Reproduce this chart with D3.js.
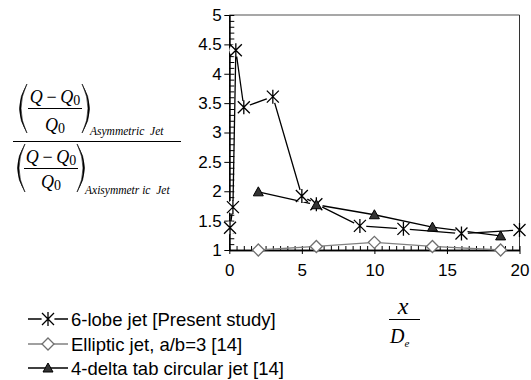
<!DOCTYPE html>
<html><head><meta charset="utf-8">
<script src="https://cdn.jsdelivr.net/npm/d3@7"></script>
<style>body{margin:0;background:#fff}svg{display:block}</style>
</head><body>
<svg id="c" width="531" height="380"></svg>
<script>
// ---- data ----
const lobeX = [0.05, 0.25, 0.45, 1, 3, 5, 6, 9, 12, 16, 20];
const lobeY = [1.38, 1.73, 4.40, 3.43, 3.61, 1.92, 1.78, 1.41, 1.36, 1.28, 1.34];
const ellX = [2, 6, 10, 14, 18.7];
const ellY = [1.00, 1.06, 1.13, 1.06, 1.00];
const deltaX = [2, 6, 10, 14, 18.7];
const deltaY = [1.99, 1.77, 1.60, 1.39, 1.24];
const seriesNames = ["6-lobe jet [Present study]", "Elliptic jet, a/b=3 [14]", "4-delta tab circular jet [14]"];
const xTicks = [0, 5, 10, 15, 20];
const yTicks = [1, 1.5, 2, 2.5, 3, 3.5, 4, 4.5, 5];

const svg = d3.select("#c");
const x = d3.scaleLinear().domain([0, 20]).range([229.3, 519.5]);
const y = d3.scaleLinear().domain([1, 5]).range([250, 15]);
const FONT = "Arial, 'Liberation Sans', sans-serif";
const SERIF = "'Times New Roman', 'Liberation Serif', serif";

// frame lines
svg.append("line").attr("x1", x(0)).attr("x2", x(20)).attr("y1", y(5)).attr("y2", y(5))
  .attr("stroke", "#8a8a8a").attr("stroke-width", 1.3);
svg.append("line").attr("x1", x(20)).attr("x2", x(20)).attr("y1", y(5)).attr("y2", y(1))
  .attr("stroke", "#333").attr("stroke-width", 1);

// axes
const minorY = d3.range(1, 5.0001, 0.1).map(v => +v.toFixed(2));
const minorX = d3.range(0, 20.0001, 0.5).map(v => +v.toFixed(2));
const gy = svg.append("g").attr("transform", `translate(${x(0)},0)`);
gy.call(d3.axisLeft(y).tickValues(yTicks).tickSize(5).tickSizeOuter(0).tickPadding(2.5).tickFormat(d3.format("")));
const gy2 = svg.append("g").attr("transform", `translate(${x(0)},0)`);
gy2.call(d3.axisRight(y).tickValues(minorY).tickSize(5).tickSizeOuter(0).tickFormat(""));
const gx = svg.append("g").attr("transform", `translate(0,${y(1)})`);
gx.call(d3.axisBottom(x).tickValues(xTicks).tickSize(4).tickSizeOuter(0).tickPadding(10));
const gx2 = svg.append("g").attr("transform", `translate(0,${y(1)})`);
gx2.call(d3.axisTop(x).tickValues(minorX).tickSize(4).tickSizeOuter(0).tickFormat(""));
[gy, gy2, gx, gx2].forEach(g => {
  g.select(".domain").attr("stroke", "#000").attr("stroke-width", 1.3);
  g.selectAll(".tick line").attr("stroke", "#000").attr("stroke-width", 1);
  g.selectAll("text").attr("font-family", FONT).attr("font-size", 17).attr("fill", "#000");
});

// lines
const line = d3.line().x(d => x(d[0])).y(d => y(d[1]));
const lobe = lobeX.map((v, i) => [v, lobeY[i]]);
const ell = ellX.map((v, i) => [v, ellY[i]]);
const delta = deltaX.map((v, i) => [v, deltaY[i]]);
svg.append("path").attr("d", line(ell)).attr("fill", "none").attr("stroke", "#808080").attr("stroke-width", 1.3);
svg.append("path").attr("d", line(delta)).attr("fill", "none").attr("stroke", "#000").attr("stroke-width", 1.3);
svg.append("path").attr("d", line(lobe)).attr("fill", "none").attr("stroke", "#000").attr("stroke-width", 1.3);

// markers
const starPath = "M-6,-6L6,6M-6,6L6,-6M0,-7L0,7";
const diamondPath = "M0,-6L6,0L0,6L-6,0Z";
const triPath = "M0,-5L5,4L-5,4Z";
function diamond(g, cx, cy) {
  g.append("path").attr("transform", `translate(${cx},${cy})`).attr("d", diamondPath)
    .attr("fill", "#fff").attr("stroke", "#707070").attr("stroke-width", 1.3);
}
function star(g, cx, cy) {
  g.append("circle").attr("cx", cx).attr("cy", cy).attr("r", 6.5).attr("fill", "#fff");
  g.append("path").attr("transform", `translate(${cx},${cy})`).attr("d", starPath)
    .attr("fill", "none").attr("stroke", "#000").attr("stroke-width", 1.3);
}
function tri(g, cx, cy) {
  g.append("path").attr("transform", `translate(${cx},${cy})`).attr("d", triPath)
    .attr("fill", "#333").attr("stroke", "#000").attr("stroke-width", 1);
}
const mk = svg.append("g");
ell.forEach(d => diamond(mk, x(d[0]), y(d[1])));
lobe.forEach(d => star(mk, x(d[0]), y(d[1])));
delta.forEach(d => tri(mk, x(d[0]), y(d[1])));

// legend
const lg = svg.append("g");
const rows = [319, 344, 368];
const lcol = ["#000", "#808080", "#000"];
rows.forEach((ry, i) => {
  lg.append("line").attr("x1", 28).attr("x2", 68).attr("y1", ry).attr("y2", ry)
    .attr("stroke", lcol[i]).attr("stroke-width", 1.3);
  if (i === 0) star(lg, 48, ry);
  if (i === 1) diamond(lg, 48, ry);
  if (i === 2) tri(lg, 48, ry);
  lg.append("text").attr("x", 71).attr("y", ry + 6.5).attr("font-family", FONT).attr("font-size", 18.5)
    .text(seriesNames[i]);
});

// y-axis label (fraction)
function qexpr(g, cx, by) {
  const t = g.append("text").attr("x", cx).attr("y", by).attr("text-anchor", "middle")
    .attr("font-family", SERIF).attr("font-size", 18);
  t.append("tspan").attr("font-style", "italic").text("Q");
  t.append("tspan").text("\u2009\u2212\u2009");
  t.append("tspan").attr("font-style", "italic").text("Q");
  t.append("tspan").attr("font-size", 14).attr("dy", 1.5).text("0");
}
function q0(g, cx, by) {
  const t = g.append("text").attr("x", cx).attr("y", by).attr("text-anchor", "middle")
    .attr("font-family", SERIF).attr("font-size", 18);
  t.append("tspan").attr("font-style", "italic").text("Q");
  t.append("tspan").attr("font-size", 14).attr("dy", 1.5).text("0");
}
// parenthesis drawn as crescent: tipX = x of the two ends, top/bottom y, dir -1 = "(", +1 = ")"
function paren(g, tipX, top, bot, dir) {
  const m = (top + bot) / 2;
  const c1 = tipX + dir * 15, c2 = tipX + dir * 11.5;
  g.append("path")
    .attr("d", `M${tipX},${top} Q${c1},${m} ${tipX},${bot} L${tipX + dir * 0.5},${bot - 0.8} Q${c2},${m} ${tipX + dir * 0.5},${top + 0.8} Z`)
    .attr("fill", "#000").attr("stroke", "#000").attr("stroke-width", 0.6);
}
const yl = svg.append("g");
// numerator
paren(yl, 27, 84, 133, -1);
qexpr(yl, 55, 103);
yl.append("line").attr("x1", 28).attr("x2", 82).attr("y1", 108.5).attr("y2", 108.5).attr("stroke", "#000").attr("stroke-width", 1);
q0(yl, 55, 131);
paren(yl, 82, 84, 133, 1);
yl.append("text").attr("x", 90).attr("y", 135).attr("font-family", SERIF).attr("font-style", "italic")
  .attr("font-size", 11.5).attr("xml:space", "preserve").text("Asymmetric  Jet");
yl.append("line").attr("x1", 13).attr("x2", 181).attr("y1", 141.5).attr("y2", 141.5).attr("stroke", "#000").attr("stroke-width", 1);
// denominator
paren(yl, 25, 144, 192, -1);
qexpr(yl, 51, 163);
yl.append("line").attr("x1", 24).attr("x2", 78).attr("y1", 168.5).attr("y2", 168.5).attr("stroke", "#000").attr("stroke-width", 1);
q0(yl, 51, 188);
paren(yl, 77, 144, 192, 1);
yl.append("text").attr("x", 85).attr("y", 194).attr("font-family", SERIF).attr("font-style", "italic")
  .attr("font-size", 11.5).attr("xml:space", "preserve").text("Axisymmetr ic  Jet");

// x-axis label
const xl = svg.append("g");
xl.append("text").attr("x", 403).attr("y", 314).attr("text-anchor", "middle").attr("font-family", SERIF)
  .attr("font-style", "italic").attr("font-size", 24).text("x");
xl.append("line").attr("x1", 389).attr("x2", 420).attr("y1", 319.5).attr("y2", 319.5).attr("stroke", "#000").attr("stroke-width", 1);
const dt = xl.append("text").attr("x", 390).attr("y", 343).attr("font-family", SERIF).attr("font-style", "italic").attr("font-size", 20);
dt.append("tspan").text("D");
dt.append("tspan").attr("font-size", 11).attr("dy", 4).text("e");
</script>
</body></html>
